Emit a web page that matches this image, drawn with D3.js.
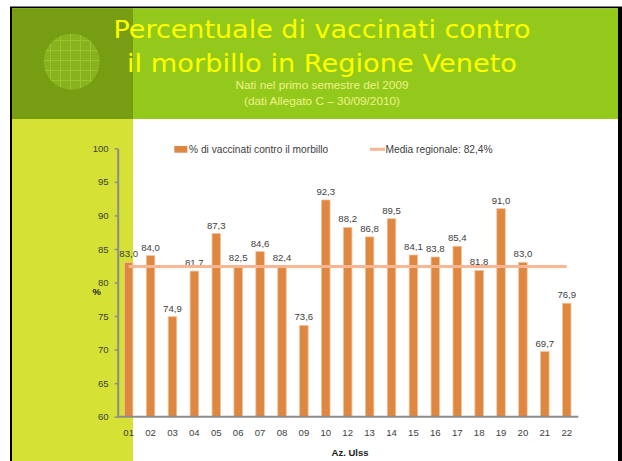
<!DOCTYPE html>
<html>
<head>
<meta charset="utf-8">
<script src="https://cdn.jsdelivr.net/npm/d3@7"></script>
<style>
  html, body { margin: 0; padding: 0; background: #fff; }
  svg { display: block; }
  .tick text { font-family: "Liberation Sans", Arial, sans-serif; font-size: 9.6px; fill: #404040; }
</style>
</head>
<body>
<svg id="chart" width="622" height="461"></svg>
<script>
// --- dati ---
const ulss = ["01", "02", "03", "04", "05", "06", "07", "08", "09", "10",
              "12", "13", "14", "15", "16", "17", "18", "19", "20", "21", "22"];
const vaccinati = [83.0, 84.0, 74.9, 81.7, 87.3, 82.5, 84.6, 82.4, 73.6, 92.3,
                   88.2, 86.8, 89.5, 84.1, 83.8, 85.4, 81.8, 91.0, 83.0, 69.7, 76.9];
const mediaRegionale = 82.4;
const yTicks = [60, 65, 70, 75, 80, 85, 90, 95, 100];
const titolo = ["Percentuale di vaccinati contro", "il morbillo in Regione Veneto"];
const sottotitolo = ["Nati nel primo semestre del 2009", "(dati Allegato C \u2013 30/09/2010)"];
const legenda = ["% di vaccinati contro il morbillo", "Media regionale: 82,4%"];

const svg = d3.select("#chart");
const fmt = v => d3.format(".1f")(v).replace(".", ",");
const font = '"Liberation Sans", Arial, sans-serif';

// --- sfondo della slide ---
svg.append("rect").attr("x", 10).attr("y", 6.5).attr("width", 612).attr("height", 460).attr("fill", "#000");
svg.append("rect").attr("x", 12).attr("y", 8.3).attr("width", 606).attr("height", 460).attr("fill", "#fff");
svg.append("rect").attr("x", 12).attr("y", 8.3).attr("width", 606).attr("height", 110.7).attr("fill", "#92c91a");
svg.append("rect").attr("x", 12).attr("y", 8.3).attr("width", 121).attr("height", 110.7).attr("fill", "#779e13");
svg.append("rect").attr("x", 12).attr("y", 119).attr("width", 121).attr("height", 350).attr("fill", "#d5e235");

// cerchio con griglia
const defs = svg.append("defs");
const pat = defs.append("pattern").attr("id", "griglia")
    .attr("patternUnits", "userSpaceOnUse").attr("width", 10).attr("height", 10);
pat.append("rect").attr("width", 10).attr("height", 10).attr("fill", "#89b21f");
pat.append("path").attr("d", "M0,0.5H10M0.5,0V10").attr("stroke", "#9cc52c").attr("stroke-width", 1);
svg.append("circle").attr("cx", 71.7).attr("cy", 61.7).attr("r", 28).attr("fill", "url(#griglia)");

// --- titolo ---
svg.selectAll("text.titolo").data(titolo).enter().append("text")
    .attr("class", "titolo")
    .attr("x", 322).attr("y", (d, i) => i === 0 ? 38.3 : 71.7)
    .attr("text-anchor", "middle")
    .attr("font-family", '"DejaVu Sans", Verdana, sans-serif')
    .attr("font-size", 24.5).attr("fill", "#ffff00")
    .attr("textLength", (d, i) => i === 0 ? 417 : 390)
    .attr("lengthAdjust", "spacingAndGlyphs")
    .text(d => d);

svg.selectAll("text.sotto").data(sottotitolo).enter().append("text")
    .attr("class", "sotto")
    .attr("x", 322).attr("y", (d, i) => i === 0 ? 89 : 105)
    .attr("text-anchor", "middle")
    .attr("font-family", font).attr("font-size", 11.8).attr("fill", "#f0f28a")
    .text(d => d);

// --- grafico ---
const x = d3.scaleBand().domain(ulss).range([117.7, 577.7]);
const y = d3.scaleLinear().domain([60, 100]).range([416.7, 148.3]);
const barW = 8.5;

svg.selectAll("rect.bar").data(vaccinati).enter().append("rect")
    .attr("class", "bar")
    .attr("x", (d, i) => x(ulss[i]) + x.bandwidth() / 2 - barW / 2)
    .attr("y", d => y(d))
    .attr("width", barW)
    .attr("height", d => y(60) - y(d))
    .attr("fill", "#dd8740")
    .attr("stroke", "#f3c39b").attr("stroke-width", 0.8);

svg.selectAll("text.val").data(vaccinati).enter().append("text")
    .attr("class", "val")
    .attr("x", (d, i) => x(ulss[i]) + x.bandwidth() / 2)
    .attr("y", d => y(d) - 5)
    .attr("text-anchor", "middle")
    .attr("font-family", font).attr("font-size", 9.6).attr("fill", "#404040")
    .text(d => fmt(d));

// linea media regionale
svg.append("line")
    .attr("x1", x(ulss[0]) + x.bandwidth() / 2)
    .attr("x2", x(ulss[ulss.length - 1]) + x.bandwidth() / 2)
    .attr("y1", y(mediaRegionale)).attr("y2", y(mediaRegionale))
    .attr("stroke", "#f8b692").attr("stroke-width", 3);

// assi
const gy = svg.append("g").attr("transform", "translate(117.7,0)")
    .call(d3.axisLeft(y).tickValues(yTicks).tickSize(3).tickSizeOuter(0).tickPadding(6));
const gx = svg.append("g").attr("transform", "translate(0,416.7)")
    .call(d3.axisBottom(x).tickSize(0).tickSizeOuter(0).tickPadding(12));
[gy, gx].forEach(g => {
    g.select(".domain").attr("stroke", "#8c8c8c").attr("stroke-width", 2);
    g.selectAll(".tick line").attr("stroke", "#8c8c8c").attr("stroke-width", 1.5);
});
gx.select(".domain").attr("d", "M117.7,0H578.3");

// titoli assi
svg.append("text").attr("x", 96.7).attr("y", 295)
    .attr("text-anchor", "middle").attr("font-family", font)
    .attr("font-size", 9.5).attr("font-weight", "bold").attr("fill", "#222")
    .text("%");
svg.append("text").attr("x", 350).attr("y", 455.5)
    .attr("text-anchor", "middle").attr("font-family", font)
    .attr("font-size", 9.5).attr("font-weight", "bold").attr("fill", "#222")
    .text("Az. Ulss");

// legenda
svg.append("rect").attr("x", 174.3).attr("y", 146).attr("width", 13).attr("height", 6.7).attr("fill", "#dd8740");
svg.append("text").attr("x", 189).attr("y", 152.9)
    .attr("font-family", font).attr("font-size", 10.2).attr("fill", "#404040")
    .text(legenda[0]);
svg.append("line").attr("x1", 370).attr("x2", 385).attr("y1", 149.3).attr("y2", 149.3)
    .attr("stroke", "#f8b692").attr("stroke-width", 3);
svg.append("text").attr("x", 385.5).attr("y", 152.9)
    .attr("font-family", font).attr("font-size", 10.2).attr("fill", "#404040")
    .text(legenda[1]);
</script>
</body>
</html>
